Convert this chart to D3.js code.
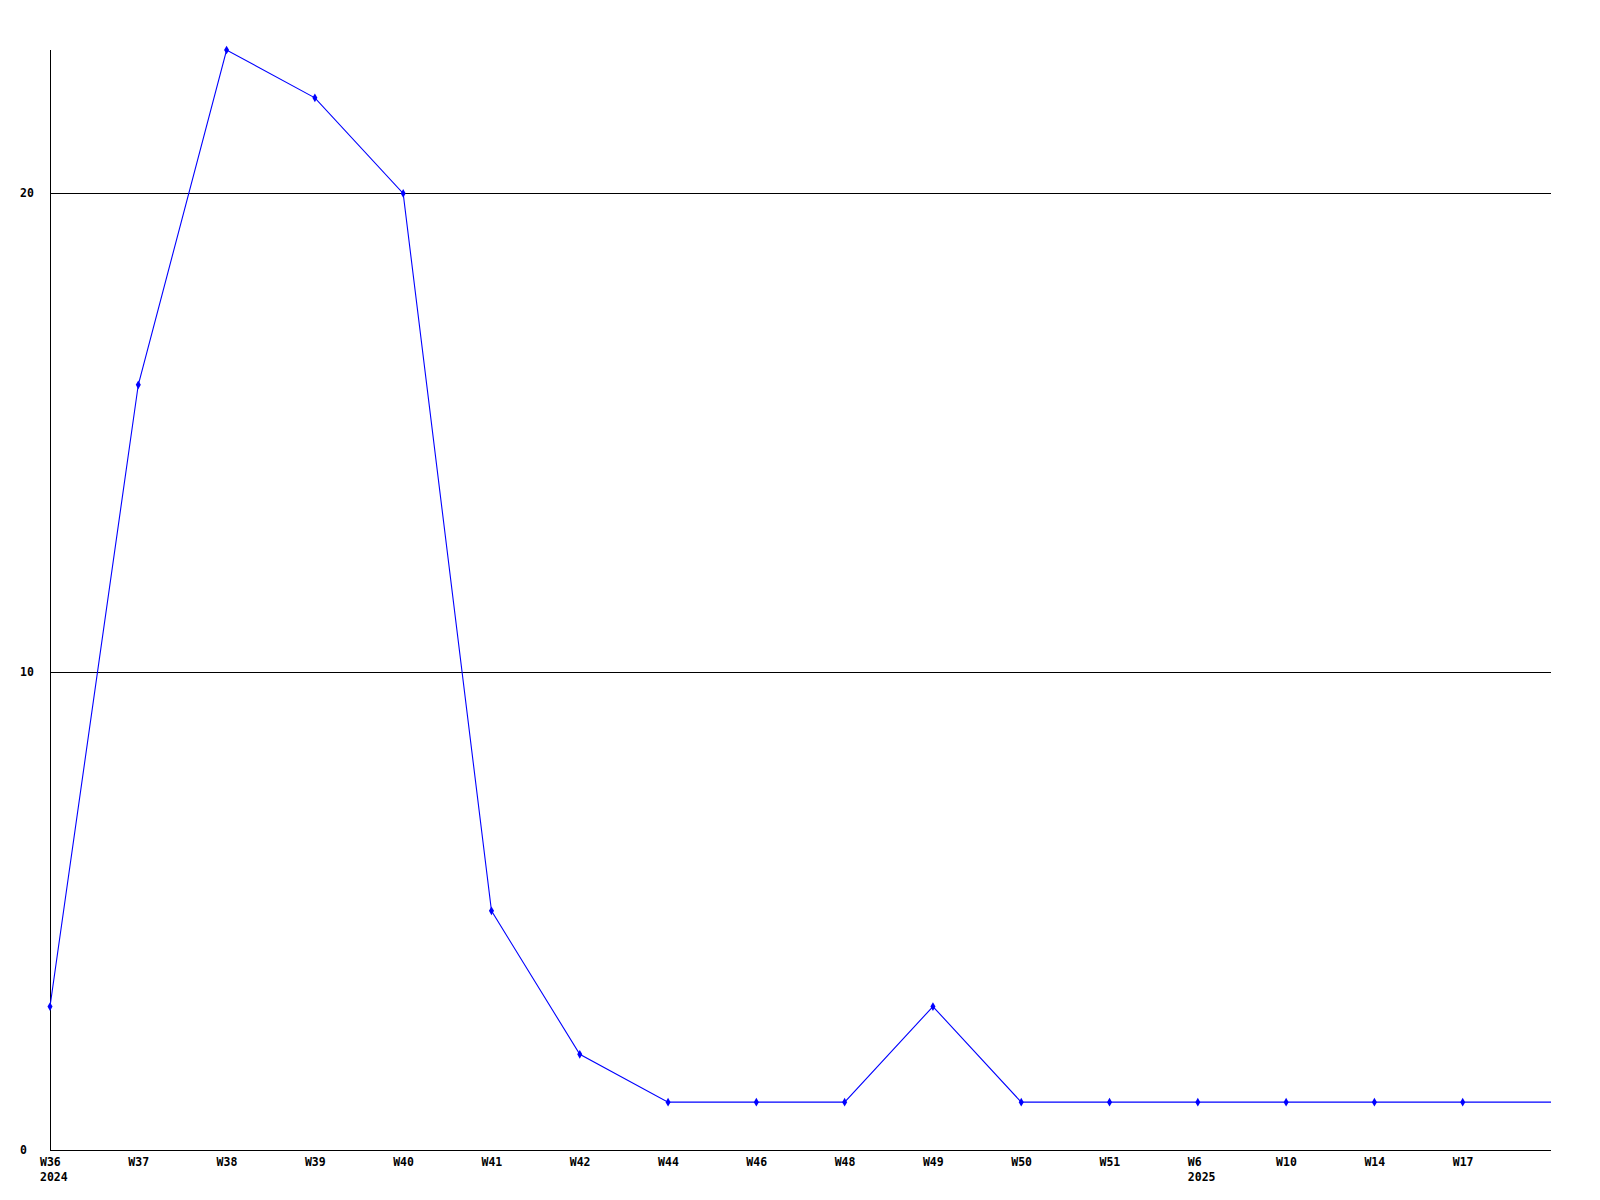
<!DOCTYPE html>
<html><head><meta charset="utf-8">
<script src="https://cdn.jsdelivr.net/npm/d3@7"></script>
<style>html,body{margin:0;padding:0;background:#fff;}</style>
</head><body>
<svg id="chart" width="1600" height="1200"></svg>
<script>
const weeks = ["W36","W37","W38","W39","W40","W41","W42","W44","W46","W48","W49","W50","W51","W6","W10","W14","W17",""];
const years = ["2024","","","","","","","","","","","","","2025","","","",""];
const values = [3,16,23,22,20,5,2,1,1,1,3,1,1,1,1,1,1,1];
const showMarker = [1,1,1,1,1,1,1,1,1,1,1,1,1,1,1,1,1,0];
const yTicks = [0,10,20];

(function () {
const svg = d3.select("#chart");
const mLeft = 50, mRight = 1551, mTop = 50, mBottom = 1150;
const idx = d3.range(values.length);
const x = d3.scaleLinear().domain([0, values.length - 1]).range([mLeft, mRight]);
const y = d3.scaleLinear().domain([0, 23]).range([mBottom, mTop]);

const font = "'DejaVu Sans Mono', monospace";

// gridlines
svg.append("g").selectAll("line").data(yTicks.filter(d => d > 0)).join("line")
  .attr("x1", mLeft).attr("x2", mRight)
  .attr("y1", d => Math.round(y(d)) + 0.5).attr("y2", d => Math.round(y(d)) + 0.5)
  .attr("stroke", "#000").attr("stroke-width", 1).attr("shape-rendering", "crispEdges");

// axes
svg.append("line").attr("x1", mLeft + 0.5).attr("x2", mLeft + 0.5).attr("y1", mTop).attr("y2", mBottom)
  .attr("stroke", "#000").attr("shape-rendering", "crispEdges");
svg.append("line").attr("x1", mLeft).attr("x2", mRight).attr("y1", mBottom + 0.5).attr("y2", mBottom + 0.5)
  .attr("stroke", "#000").attr("shape-rendering", "crispEdges");

// y labels
svg.append("g").selectAll("text").data(yTicks).join("text")
  .attr("x", 20).attr("y", d => y(d) + 4)
  .attr("font-family", font).attr("font-weight", "bold").attr("font-size", 11.5)
  .attr("fill", "#000").text(d => d);

// x labels
svg.append("g").selectAll("text").data(idx).join("text")
  .attr("x", i => x(i) - 10).attr("y", mBottom + 16)
  .attr("font-family", font).attr("font-weight", "bold").attr("font-size", 11.5)
  .attr("fill", "#000").text(i => weeks[i]);
svg.append("g").selectAll("text").data(idx.filter(i => years[i])).join("text")
  .attr("x", i => x(i) - 10).attr("y", mBottom + 31)
  .attr("font-family", font).attr("font-weight", "bold").attr("font-size", 11.5)
  .attr("fill", "#000").text(i => years[i]);

// line
const line = d3.line().x(i => x(i)).y(i => y(values[i]));
svg.append("path").datum(idx).attr("d", line)
  .attr("fill", "none").attr("stroke", "#0000ff").attr("stroke-width", 1.1);

// markers
svg.append("g").selectAll("path").data(idx.filter(i => showMarker[i])).join("path")
  .attr("transform", i => `translate(${x(i)},${y(values[i])})`)
  .attr("d", d3.symbol().type(d3.symbolDiamond).size(22))
  .attr("fill", "#0000ff");
})();
</script>
</body></html>
